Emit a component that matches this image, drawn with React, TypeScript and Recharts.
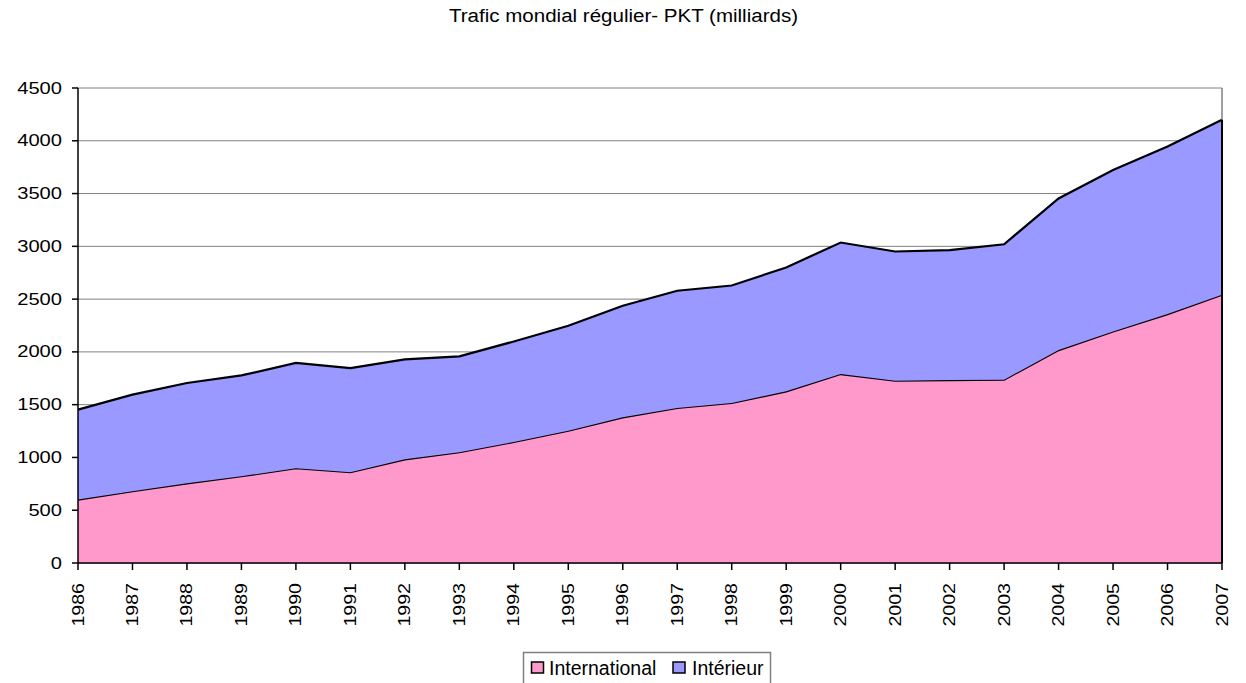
import React from 'react';
import { AreaChart, Area, XAxis, YAxis, CartesianGrid, ReferenceLine } from 'recharts';

const years = ['1986','1987','1988','1989','1990','1991','1992','1993','1994','1995','1996','1997','1998','1999','2000','2001','2002','2003','2004','2005','2006','2007'];
const international = [601, 680, 755, 822, 898, 860, 982, 1049, 1147, 1254, 1380, 1469, 1516, 1626, 1790, 1727, 1733, 1737, 2017, 2194, 2358, 2541];
const interieur = [852, 915, 950, 955, 997, 987, 947, 908, 952, 994, 1057, 1110, 1113, 1174, 1246, 1224, 1231, 1283, 1436, 1530, 1587, 1659];
const yTicks = [0, 500, 1000, 1500, 2000, 2500, 3000, 3500, 4000, 4500];
const seriesNames = ['International', 'Intérieur'];
const seriesKeys = ['international', 'interieur'];
const seriesColors = ['#FF99CC', '#9999FF'];
const title = 'Trafic mondial régulier- PKT (milliards)';

const data = years.map((y, i) => ({ year: y, international: international[i], interieur: interieur[i] }));
const lastYear = years[years.length - 1];
const lastTotal = international[international.length - 1] + interieur[interieur.length - 1];

const FONT = 'Arial, "Liberation Sans", sans-serif';

const YTick = (props: any) => {
  const { x, y, payload } = props;
  const s = String(payload.value);
  return (
    <text x={x} y={y} textAnchor="end" dominantBaseline="central" fontFamily={FONT} fontSize={17} fill="#000"
      textLength={s.length * 11.2} lengthAdjust="spacingAndGlyphs">
      {s}
    </text>
  );
};

const XTick = (props: any) => {
  const { x, y, payload } = props;
  const s = String(payload.value);
  return (
    <text x={x} y={y} transform={`rotate(-90, ${x}, ${y})`} textAnchor="end" dominantBaseline="central"
      fontFamily={FONT} fontSize={17} fill="#000" textLength={s.length * 10.9} lengthAdjust="spacingAndGlyphs">
      {s}
    </text>
  );
};

export default function App() {
  const legendX = [531.5, 673];
  const legendTextX = [549, 692];
  return (
    <div style={{ position: 'absolute', left: 0, top: 0, width: 1246, height: 683, background: '#fff' }}>
      <AreaChart width={1246} height={683} data={data} margin={{ top: 88, right: 24, left: 0, bottom: 0 }}>
        <CartesianGrid horizontal vertical={false} stroke="#808080" strokeWidth={1} />
        <XAxis dataKey="year" height={120} stroke="#000" strokeWidth={1.5} tickSize={7} tickMargin={13}
          tick={<XTick />} interval={0} tickLine={{ stroke: '#000' }} />
        <YAxis width={78} domain={[0, 4500]} ticks={yTicks} stroke="#000" strokeWidth={1.5} tickSize={6}
          tickMargin={10} tick={<YTick />} interval={0} tickLine={{ stroke: '#000' }} />
        <ReferenceLine x={lastYear} stroke="#808080" strokeWidth={1.5} />
        {seriesKeys.map((k, i) => (
          <Area key={k} type="linear" dataKey={k} stackId="1" fill={seriesColors[i]} fillOpacity={1}
            stroke="#000" strokeWidth={2.2} isAnimationActive={false} dot={false} activeDot={false} />
        ))}
        <ReferenceLine segment={[{ x: lastYear, y: 0 }, { x: lastYear, y: lastTotal }]} stroke="#000" strokeWidth={2} />
        <text x={623.5} y={22} textAnchor="middle" fontFamily={FONT} fontSize={18} fill="#000"
          textLength={349} lengthAdjust="spacingAndGlyphs">{title}</text>
        <rect x={523.5} y={652.5} width={247} height={40} fill="#fff" stroke="#808080" strokeWidth={1.5} />
        {seriesNames.map((n, i) => (
          <g key={n}>
            <rect x={legendX[i]} y={662} width={12} height={11} fill={seriesColors[i]} stroke="#000" strokeWidth={1.5} />
            <text x={legendTextX[i]} y={675} fontFamily={FONT} fontSize={19.5} fill="#000">{n}</text>
          </g>
        ))}
      </AreaChart>
    </div>
  );
}
